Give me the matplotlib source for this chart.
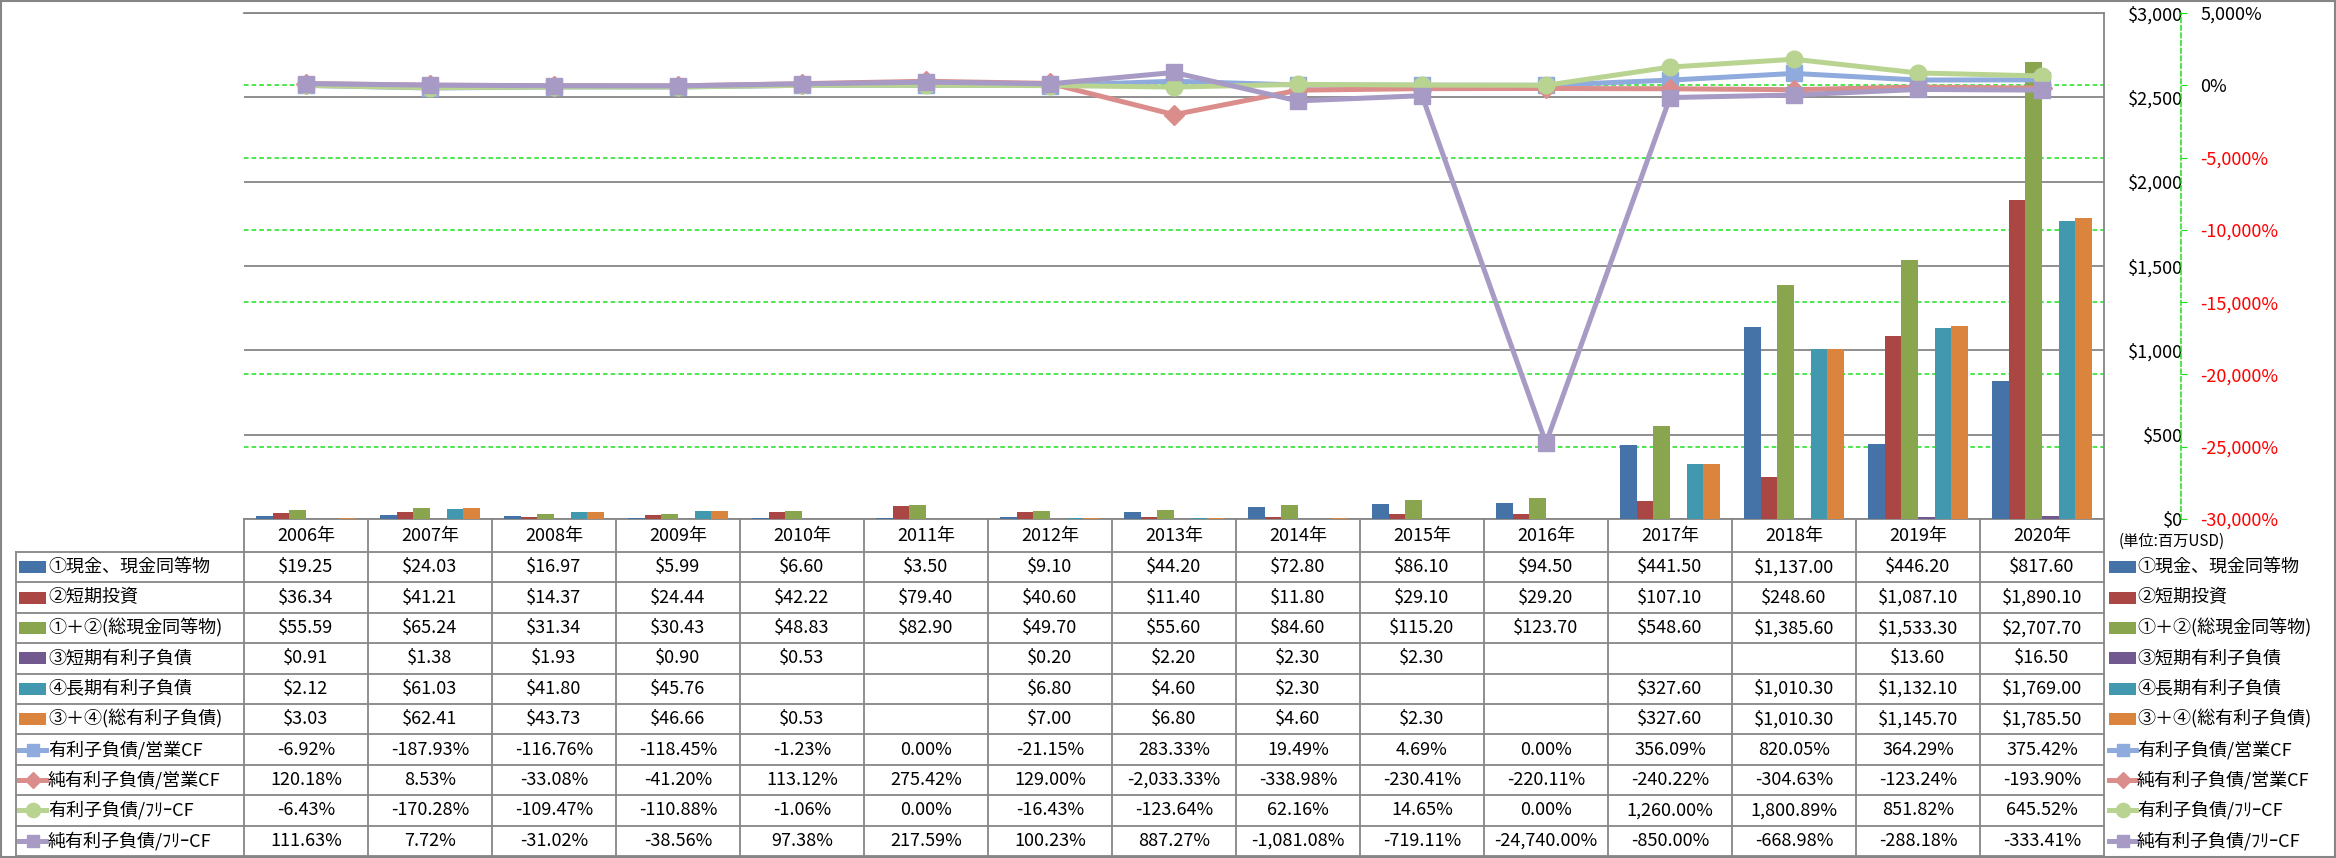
import matplotlib
matplotlib.use('Agg')
import matplotlib.pyplot as plt
import matplotlib.transforms as mtransforms
from matplotlib.patches import Rectangle
from matplotlib.lines import Line2D
import numpy as np

plt.rcParams['font.family'] = ['Noto Sans CJK JP', 'DejaVu Sans']

# ---------------- data ----------------
years = ['2006年', '2007年', '2008年', '2009年', '2010年', '2011年', '2012年', '2013年',
         '2014年', '2015年', '2016年', '2017年', '2018年', '2019年', '2020年']

cash = [19.25, 24.03, 16.97, 5.99, 6.60, 3.50, 9.10, 44.20, 72.80, 86.10, 94.50,
        441.50, 1137.00, 446.20, 817.60]
short_inv = [36.34, 41.21, 14.37, 24.44, 42.22, 79.40, 40.60, 11.40, 11.80, 29.10, 29.20,
             107.10, 248.60, 1087.10, 1890.10]
total_cash = [55.59, 65.24, 31.34, 30.43, 48.83, 82.90, 49.70, 55.60, 84.60, 115.20, 123.70,
              548.60, 1385.60, 1533.30, 2707.70]
short_debt = [0.91, 1.38, 1.93, 0.90, 0.53, None, 0.20, 2.20, 2.30, 2.30, None,
              None, None, 13.60, 16.50]
long_debt = [2.12, 61.03, 41.80, 45.76, None, None, 6.80, 4.60, 2.30, None, None,
             327.60, 1010.30, 1132.10, 1769.00]
total_debt = [3.03, 62.41, 43.73, 46.66, 0.53, None, 7.00, 6.80, 4.60, 2.30, None,
              327.60, 1010.30, 1145.70, 1785.50]

debt_ocf = [-6.92, -187.93, -116.76, -118.45, -1.23, 0.00, -21.15, 283.33, 19.49, 4.69, 0.00,
            356.09, 820.05, 364.29, 375.42]
netdebt_ocf = [120.18, 8.53, -33.08, -41.20, 113.12, 275.42, 129.00, -2033.33, -338.98,
               -230.41, -220.11, -240.22, -304.63, -123.24, -193.90]
debt_fcf = [-6.43, -170.28, -109.47, -110.88, -1.06, 0.00, -16.43, -123.64, 62.16, 14.65, 0.00,
            1260.00, 1800.89, 851.82, 645.52]
netdebt_fcf = [111.63, 7.72, -31.02, -38.56, 97.38, 217.59, 100.23, 887.27, -1081.08, -719.11,
               -24740.00, -850.00, -668.98, -288.18, -333.41]

bar_names = ['①現金、現金同等物', '②短期投資', '①＋②(総現金同等物)',
             '③短期有利子負債', '④長期有利子負債', '③＋④(総有利子負債)']
line_names = ['有利子負債/営業CF', '純有利子負債/営業CF', '有利子負債/ﾌﾘｰCF', '純有利子負債/ﾌﾘｰCF']

money_ticks = [0, 500, 1000, 1500, 2000, 2500, 3000]
pct_ticks = [-30000, -25000, -20000, -15000, -10000, -5000, 0, 5000]
unit_label = '(単位:百万USD)'

# ---------------- style ----------------
bar_colors = ['#4572A7', '#AA4643', '#89A54E', '#71588F', '#4198AF', '#DB843D']
line_colors = ['#8FAADC', '#DA8D8B', '#B9D391', '#A79AC4']
line_markers = ['s', 'D', 'o', 's']
marker_sizes = [11, 10, 12, 11]
grid_gray = '#868686'
green = '#1EE01E'

W, H, DPI = 2336, 858, 100
PT = 72.0 / DPI  # points per pixel
fig = plt.figure(figsize=(W / DPI, H / DPI), dpi=DPI)
fig.patch.set_facecolor('white')

# full-figure axes in pixel coords for the data table
tab = fig.add_axes([0, 0, 1, 1])
tab.set_xlim(0, W)
tab.set_ylim(H, 0)
tab.axis('off')

L, R, T, B = 244, 2104, 13, 519
ax = fig.add_axes([L / W, 1 - B / H, (R - L) / W, (B - T) / H])
ax.set_facecolor('none')
ax2 = ax.twinx()

n = len(years)
x = np.arange(n)
bar_series = [cash, short_inv, total_cash, short_debt, long_debt, total_debt]
bw = 0.1333
for k, (vals, col) in enumerate(zip(bar_series, bar_colors)):
    v = np.array([np.nan if a is None else a for a in vals], dtype=float)
    ax.bar(x + (k - 2.5) * bw, np.nan_to_num(v), width=bw, color=col, zorder=3, linewidth=0)

ax.set_xlim(-0.5, n - 0.5)
ax.set_ylim(money_ticks[0], money_ticks[-1])
ax2.set_ylim(pct_ticks[0], pct_ticks[-1])

# gray gridlines for money axis
ax.set_yticks(money_ticks)
ax.yaxis.grid(True, color=grid_gray, linewidth=1.3, zorder=0.6)
ax.set_axisbelow(True)
ax.set_xticks([])
ax.tick_params(axis='y', which='both', left=False, right=False, labelleft=False,
               labelright=True, pad=74 * PT, labelsize=13)
ax.set_yticklabels(['${:,}'.format(t) for t in money_ticks], ha='right')

# green dashed gridlines for percent axis drawn behind bars and gray grid
gtrans = mtransforms.blended_transform_factory(ax.transAxes, ax2.transData)
for t in pct_ticks:
    ax.plot([0, 1], [t, t], transform=gtrans, color=green, linewidth=1.1,
            linestyle=(0, (3, 2)), zorder=0.3)

ax.spines['left'].set_visible(False)
for s in ['right', 'bottom', 'top']:
    ax.spines[s].set_color(grid_gray)
    ax.spines[s].set_linewidth(1.3)

for s in ['left', 'top', 'bottom']:
    ax2.spines[s].set_visible(False)
ax2.spines['right'].set_position(('outward', 77 * PT))
ax2.spines['right'].set_color(green)
ax2.spines['right'].set_linestyle((0, (3, 2)))
ax2.spines['right'].set_linewidth(1.1)
ax2.set_yticks(pct_ticks)
ax2.tick_params(axis='y', length=4, color=green, pad=14 * PT, labelsize=13)
lbls = ax2.set_yticklabels(['{:,}%'.format(t) for t in pct_ticks])
for lb, t in zip(lbls, pct_ticks):
    lb.set_color('#FF0000' if t < 0 else 'black')

line_series = [debt_ocf, netdebt_ocf, debt_fcf, netdebt_fcf]
for vals, col, mk, ms in zip(line_series, line_colors, line_markers, marker_sizes):
    ax2.plot(x, vals, color=col, linewidth=3.6, marker=mk, markersize=ms,
             markerfacecolor=col, markeredgecolor=col, zorder=5, solid_joinstyle='round')

# ---------------- data table ----------------
bt = mtransforms.blended_transform_factory(ax.transData, tab.transData)
row_top = 552
row_h = 30.4
n_rows = 10
row_edges = [row_top + i * row_h for i in range(n_rows + 1)]
tbl_left = 16
lw_t = 1.3

# vertical separators
for i in range(n + 1):
    tab.plot([i - 0.5, i - 0.5], [B, row_edges[-1]], transform=bt, color=grid_gray,
             linewidth=lw_t, zorder=2)
tab.plot([tbl_left, tbl_left], [row_top, row_edges[-1]], color=grid_gray, linewidth=lw_t)
# horizontal separators
for y in row_edges:
    tab.plot([tbl_left, R], [y, y], color=grid_gray, linewidth=lw_t)

fs = 13
# header years
for i, yr in enumerate(years):
    tab.text(i, (B + row_top) / 2, yr, transform=bt, ha='center', va='center', fontsize=fs)


def fmt_money(v):
    return '' if v is None else '${:,.2f}'.format(v)


def fmt_pct(v):
    return '' if v is None else '{:,.2f}%'.format(v)


rows_vals = bar_series + line_series
rows_fmt = [fmt_money] * 6 + [fmt_pct] * 4
for r, (vals, f) in enumerate(zip(rows_vals, rows_fmt)):
    yc = (row_edges[r] + row_edges[r + 1]) / 2
    for i, v in enumerate(vals):
        tab.text(i, yc, f(v), transform=bt, ha='center', va='center', fontsize=fs)


def draw_key(x0, yc, r):
    if r < 6:
        tab.add_patch(Rectangle((x0, yc - 6), 27, 12, facecolor=bar_colors[r],
                                edgecolor='none'))
    else:
        j = r - 6
        tab.add_line(Line2D([x0, x0 + 27], [yc, yc], color=line_colors[j], linewidth=3.6))
        tab.plot([x0 + 13.5], [yc], marker=line_markers[j], markersize=marker_sizes[j] * 0.85,
                 color=line_colors[j])


all_names = bar_names + line_names
for r, name in enumerate(all_names):
    yc = (row_edges[r] + row_edges[r + 1]) / 2
    # left label column
    draw_key(19, yc, r)
    tab.text(48, yc, name, ha='left', va='center', fontsize=fs)
    # right legend
    draw_key(2109, yc, r)
    tab.text(2137, yc, name, ha='left', va='center', fontsize=fs)

tab.text(2119, 541, unit_label, ha='left', va='center', fontsize=11)

# outer frame
tab.add_patch(Rectangle((1, 1), W - 2, H - 2, facecolor='none', edgecolor=grid_gray,
                        linewidth=1.5))

fig.savefig('out.png', dpi=DPI)
